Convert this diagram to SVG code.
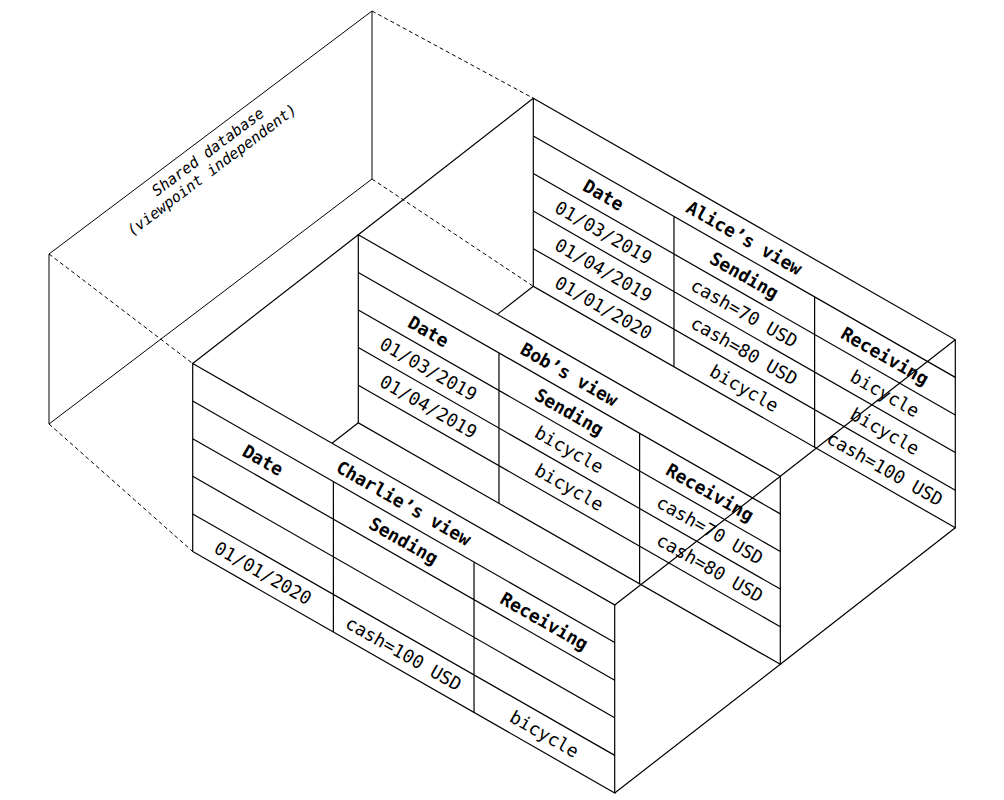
<svg xmlns="http://www.w3.org/2000/svg" width="1004" height="800" viewBox="0 0 1004 800">
<style>
.bg{fill:#fff}
.panel{fill:#fff;stroke:#000;stroke-width:1.2;vector-effect:non-scaling-stroke}
.grid{fill:none;stroke:#000;stroke-width:1.2;vector-effect:non-scaling-stroke}
.edge{fill:none;stroke:#000;stroke-width:1.2}
.dash{fill:none;stroke:#000;stroke-width:1;stroke-dasharray:4 3}
.face{fill:none;stroke:#000;stroke-width:1}
.t{font-family:"DejaVu Sans Mono","Liberation Mono",monospace;font-size:18px;text-anchor:middle;dominant-baseline:central;fill:#000}
.b{font-weight:bold}
.db{font-family:"DejaVu Sans Mono","Liberation Mono",monospace;font-style:italic;font-size:15px;text-anchor:middle;dominant-baseline:central;fill:#000}
</style>
<defs>
<g id="table">
<rect class="panel" x="0" y="0" width="422" height="188"/>
<path class="grid" d="M0 37.6H422M0 75.2H422M0 112.8H422M0 150.4H422M140.67 37.6V188M281.33 37.6V188"/>
</g>
</defs>
<rect class="bg" x="0" y="0" width="1004" height="800"/>

<g id="shared-db">
<path class="face" d="M49 254L372 11V179L49 424Z"/>
<text class="db" transform="translate(208 152) rotate(-36.95)">Shared database</text>
<text class="db" transform="translate(212 170) rotate(-36.95)">(viewpoint independent)</text>
</g>

<g id="alice">
<use href="#table" transform="matrix(1 0.5722 0 1 533.3 98.3)"/>
<text class="t b" transform="translate(744.3 237.8) rotate(29.78)">Alice’s view</text>
<text class="t b" transform="translate(603.6 194.9) rotate(29.78)">Date</text>
<text class="t b" transform="translate(744.3 275.4) rotate(29.78)">Sending</text>
<text class="t b" transform="translate(885 355.9) rotate(29.78)">Receiving</text>
<text class="t" transform="translate(603.6 232.5) rotate(29.78)">01/03/2019</text>
<text class="t" transform="translate(744.3 313) rotate(29.78)">cash=70 USD</text>
<text class="t" transform="translate(885 393.5) rotate(29.78)">bicycle</text>
<text class="t" transform="translate(603.6 270.1) rotate(29.78)">01/04/2019</text>
<text class="t" transform="translate(744.3 350.6) rotate(29.78)">cash=80 USD</text>
<text class="t" transform="translate(885 431.1) rotate(29.78)">bicycle</text>
<text class="t" transform="translate(603.6 307.7) rotate(29.78)">01/01/2020</text>
<text class="t" transform="translate(744.3 388.2) rotate(29.78)">bicycle</text>
<text class="t" transform="translate(885 468.7) rotate(29.78)">cash=100 USD</text>
</g>

<g id="bob">
<use href="#table" transform="matrix(1 0.5722 0 1 358.3 234.8)"/>
<text class="t b" transform="translate(569.3 374.3) rotate(29.78)">Bob’s view</text>
<text class="t b" transform="translate(428.6 331.4) rotate(29.78)">Date</text>
<text class="t b" transform="translate(569.3 411.9) rotate(29.78)">Sending</text>
<text class="t b" transform="translate(710 492.4) rotate(29.78)">Receiving</text>
<text class="t" transform="translate(428.6 369) rotate(29.78)">01/03/2019</text>
<text class="t" transform="translate(569.3 449.5) rotate(29.78)">bicycle</text>
<text class="t" transform="translate(710 530) rotate(29.78)">cash=70 USD</text>
<text class="t" transform="translate(428.6 406.6) rotate(29.78)">01/04/2019</text>
<text class="t" transform="translate(569.3 487.1) rotate(29.78)">bicycle</text>
<text class="t" transform="translate(710 567.6) rotate(29.78)">cash=80 USD</text>
</g>

<g id="charlie">
<use href="#table" transform="matrix(1 0.5722 0 1 192.7 363.5)"/>
<text class="t b" transform="translate(403.7 503) rotate(29.78)">Charlie’s view</text>
<text class="t b" transform="translate(263 460.1) rotate(29.78)">Date</text>
<text class="t b" transform="translate(403.7 540.6) rotate(29.78)">Sending</text>
<text class="t b" transform="translate(544.4 621.1) rotate(29.78)">Receiving</text>
<text class="t" transform="translate(263 572.9) rotate(29.78)">01/01/2020</text>
<text class="t" transform="translate(403.7 653.4) rotate(29.78)">cash=100 USD</text>
<text class="t" transform="translate(544.4 733.9) rotate(29.78)">bicycle</text>
</g>

<g id="connectors">
<path class="dash" d="M49 254L192.7 363.5M49 424L192.7 551.5M372 11L533.3 98.3M372 179L533.3 286.3"/>
<path class="edge" d="M533.3 98.3L358.3 234.8L192.7 363.5"/>
<path class="edge" d="M533.3 286.3L497.3 314.4M358.3 422.8L332 443.2"/>
<path class="edge" d="M955.3 339.8L780.3 476.3L614.7 605"/>
<path class="edge" d="M955.3 527.8L780.3 664.3L614.7 793"/>
</g>
</svg>
